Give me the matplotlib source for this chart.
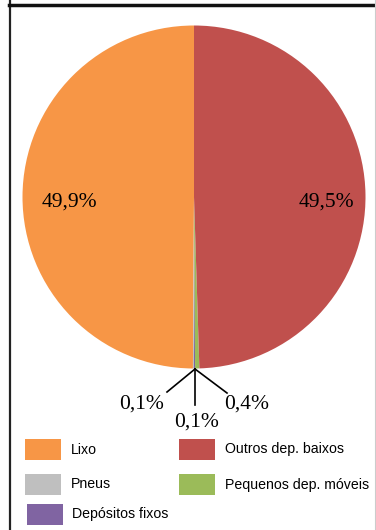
import matplotlib
matplotlib.use("Agg")
import matplotlib.pyplot as plt
from matplotlib.patches import Rectangle

# Data
categories = ["Lixo", "Pneus", "Depósitos fixos", "Pequenos dep. móveis", "Outros dep. baixos"]
values = [49.9, 0.1, 0.1, 0.4, 49.5]
colors = ["#F79646", "#BFBFBF", "#8064A2", "#9BBB59", "#C0504D"]
value_labels = ["49,9%", "0,1%", "0,1%", "0,4%", "49,5%"]

legend_order = ["Lixo", "Outros dep. baixos", "Pneus", "Pequenos dep. móveis", "Depósitos fixos"]

W, H = 376, 530
fig = plt.figure(figsize=(W / 100, H / 100), dpi=100)
ax = fig.add_axes([0, 0, 1, 1])

def Y(y):
    return H - y

cx, cy, r = 194, 197, 171.5
ax.pie(values, colors=colors, startangle=90, counterclock=True,
       center=(cx, Y(cy)), radius=r, frame=True,
       wedgeprops=dict(linewidth=0))
ax.set_xlim(0, W)
ax.set_ylim(0, H)
ax.set_aspect("equal")
ax.axis("off")

serif = ["Liberation Serif", "DejaVu Serif"]
fs = 15.5
ax.text(69, Y(202), value_labels[0], fontsize=fs, family=serif, ha="center", va="center")
ax.text(326, Y(202), value_labels[4], fontsize=fs, family=serif, ha="center", va="center")

# leader lines
bx, by = 195, Y(369)
ax.plot([bx, 167], [by, Y(392)], color="black", lw=1.2)
ax.plot([bx, bx], [by, Y(405)], color="black", lw=1.2)
ax.plot([bx, 227], [by, Y(393)], color="black", lw=1.2)
ax.text(142, Y(404), value_labels[1], fontsize=fs, family=serif, ha="center", va="center")
ax.text(196.5, Y(422), value_labels[2], fontsize=fs, family=serif, ha="center", va="center")
ax.text(247, Y(404), value_labels[3], fontsize=fs, family=serif, ha="center", va="center")

# frame lines
ax.plot([9.5, 9.5], [0, H], color="#222222", lw=1.6)
ax.plot([9, W], [Y(5), Y(5)], color="#111111", lw=2.5)
ax.plot([375, 375], [0, H], color="#cccccc", lw=0.8)

# legend (manual grid)
cmap = dict(zip(categories, colors))
col_patch_x = [25, 179]
col_text_x = [71, 225]
row_y = [449.5, 484.5, 514]
pw, ph = 36, 21
for i, name in enumerate(legend_order):
    row, col = divmod(i, 2)
    x0 = col_patch_x[col] + (2 if row == 2 else 0)
    yc = row_y[row]
    ax.add_patch(Rectangle((x0, Y(yc) - ph / 2), pw, ph, facecolor=cmap[name],
                           edgecolor="none"))
    ax.text(col_text_x[col] + (1 if row == 2 else 0), Y(yc), name,
            fontsize=10.2, family=["Liberation Sans", "DejaVu Sans"],
            ha="left", va="center")

fig.savefig("out.png", dpi=100)
